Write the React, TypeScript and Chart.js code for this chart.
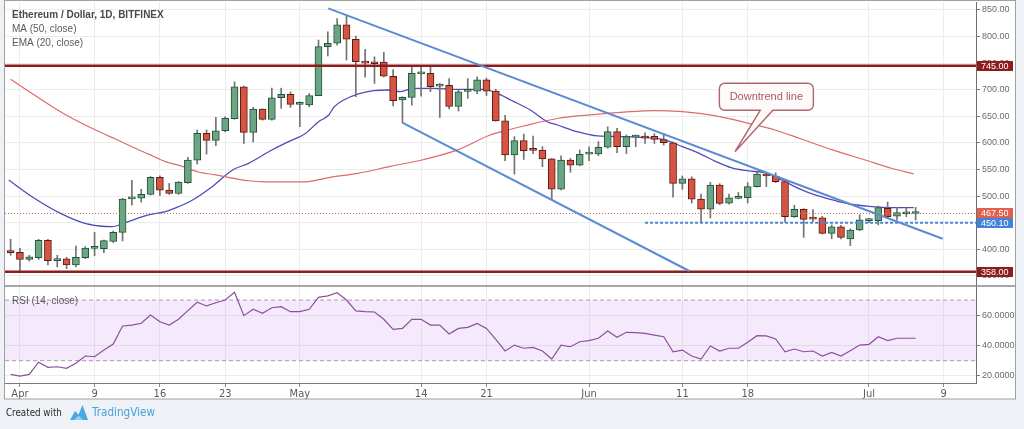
import React, { useEffect, useRef } from 'react';
import { Chart, registerables } from 'chart.js';

Chart.register(...registerables);

// ---------------- data ----------------
// day index: 0 = Apr 1 (first candle is Mar 31 = -1)
const FIRST_DAY = -1;

const opens = [
  395, 394.5, 381, 384.5, 417, 379, 382.5, 371, 384.5, 402,
  401.5, 415, 432, 495, 496.5, 503.5, 535.5, 511.5, 505, 525.5,
  567.5, 618, 605, 623, 645.5, 705.5, 620, 663.5, 644.5, 685,
  691.5, 672.5, 671.5, 689, 781, 787.5, 822, 795, 754, 752,
  752, 725.5, 681, 685.5, 730, 731, 707, 708.5, 668.5, 697,
  697.5, 718.5, 697.5, 641.5, 577.5, 604.5, 587, 586.5, 570, 513,
  568, 558.5, 579, 579.5, 592, 621.5, 593, 611, 610, 612.5,
  606.5, 600.5, 524, 532.5, 494.5, 475.5, 521, 487, 496, 497,
  518, 541.5, 538, 527.5, 461.5, 475.5, 458, 459.5, 430, 442.5,
  419.5, 436.5, 454, 454, 477, 462.5, 467, 467.5,
];
const highs = [
  419, 402, 389, 419, 419, 389, 385, 406, 405, 432,
  417.5, 434.5, 496, 530, 513, 537, 538.5, 524, 527.5, 573,
  624.5, 624.5, 648, 649.5, 715, 707, 667, 664, 703, 703,
  696, 677.5, 693, 793.5, 809, 834, 840.5, 801, 776, 762,
  770.5, 738, 687, 742.5, 745.5, 742.5, 712, 721, 699.5, 721,
  724.5, 722, 701, 652, 612, 616.5, 613, 593, 571, 576,
  571, 587, 593, 602.5, 630.5, 627.5, 615, 615, 619, 617.5,
  617.5, 602, 538, 536.5, 504, 526, 523.5, 504, 507, 525.5,
  545.5, 544, 544, 530.5, 483, 476.5, 475, 462, 446, 445,
  438.5, 465, 458, 481.5, 489, 479, 479, 479,
];
const lows = [
  389, 360, 378, 381, 371, 367, 364, 367, 382.5, 388,
  394, 413, 416, 483, 489, 502, 501, 503.5, 503.5, 524,
  560.5, 579, 595, 621, 644.5, 599, 602, 643, 643, 665,
  667, 630.5, 668, 689, 763.5, 784, 756, 687, 723.5, 712,
  724, 669.5, 638, 671, 688, 696.5, 648, 664, 660, 684,
  692, 689, 641, 567, 541.5, 569, 580, 555.5, 494, 512,
  545, 557, 567, 576, 590, 582, 580, 593, 599, 599,
  596, 498, 513, 487, 451, 459, 484, 485, 495, 487,
  517, 518, 525.5, 451, 460, 422.5, 452, 429, 420, 419.5,
  407, 435, 450, 446, 460, 455, 461.5, 455,
];
const closes = [
  394, 381, 386, 417, 379, 382.5, 371, 385, 402.5, 403,
  416.5, 432, 494.5, 496.5, 503.5, 535.5, 511.5, 505, 526.5, 568,
  618, 605, 623, 646.5, 705.5, 620, 663.5, 644.5, 685, 691.5,
  672.5, 673.5, 689, 781, 787.5, 822, 795, 753, 750, 749,
  725.5, 679.5, 686, 731, 731, 706, 708, 668.5, 696, 698.5,
  718.5, 697.5, 641.5, 577.5, 604.5, 585.5, 586, 570, 513, 568,
  558.5, 578.5, 580.5, 592, 621.5, 593, 612, 612, 609, 606.5,
  600.5, 524, 532.5, 494.5, 475.5, 521, 486.5, 497, 497.5, 518,
  541.5, 538, 527.5, 461.5, 475.5, 456.5, 457, 430, 442.5, 422.5,
  436.5, 455.5, 455.5, 478.5, 461.5, 469, 467.5, 467.5,
];

// MA (50)
const maDays = [-1, 1.3, 4.9, 8.5, 10.3, 12, 13.8, 15.6, 17.4, 19.2, 21, 22.8, 24.5, 26.3, 28.1, 30.6, 33.1, 36.2, 39.7, 43.3, 46.9, 50.4, 52.2, 54, 57.6, 61.2, 64.7, 68, 71, 74.6, 78.1, 81, 83.5, 87.1, 90.6, 93.5, 95.8];
const maValues = [720, 693, 653, 621, 607, 593, 579, 565, 556, 545, 540, 534, 529, 527, 527, 527, 535, 543, 556, 569, 587, 615, 624, 632, 646, 653, 658, 661, 659, 651, 637, 624, 609, 587, 568, 552, 542];

// EMA (20)
const emaDays = [-1.2, 1.3, 4.2, 6.7, 8.5, 9.9, 11.3, 13.8, 15.6, 17, 18.5, 20.6, 22.8, 24.5, 27, 28.8, 30.6, 32, 33.1, 33.7, 34.7, 36.2, 37.9, 39.4, 40.8, 42.2, 44.4, 46.9, 49.7, 51.2, 52.6, 54.7, 56.5, 57.6, 59.7, 61.9, 64.7, 68, 69.2, 71, 72.8, 74.6, 76.3, 78.1, 79.9, 81.7, 83.5, 85.3, 87.1, 88.9, 90.6, 92.4, 95.8];
const emaValues = [530.5, 499, 469, 450.3, 444, 442.7, 450.3, 464.7, 470.9, 480.3, 492.9, 517.9, 549.2, 561.8, 586.8, 602.5, 618, 640, 652.6, 668.3, 680.8, 692, 698.4, 699.6, 696.5, 702.8, 702.8, 700.9, 700.9, 693.4, 680.8, 662, 640, 633.8, 621.3, 613.2, 612, 608.8, 605.6, 593, 580.6, 565, 553.1, 547.5, 543.8, 530, 514.3, 501.8, 492.9, 485.3, 481.6, 479, 478.4];

// RSI (14), one value per candle
const rsiValues = [
  21, 19.9, 21, 29, 25.6, 26, 25, 28.3, 33.1, 32.6,
  37, 41, 52.9, 53.5, 54.7, 60.1, 55.7, 53.5, 57.3, 63,
  68.5, 66.1, 68.2, 70, 75.1, 59.7, 63.9, 61.2, 64.9, 65.6,
  62.3, 62.3, 63.9, 71.8, 72.7, 74.8, 70, 62.8, 62.3, 62.1,
  57.3, 50.7, 51.3, 57.3, 57.3, 53.5, 53.5, 47.6, 51.3, 52,
  54.6, 51.3, 44, 36.4, 40.3, 38.2, 38.8, 36.4, 31.1, 40.3,
  39.2, 42.5, 43.2, 44.8, 49.6, 45.4, 48.7, 48.5, 48, 46.9,
  45.8, 35.9, 37, 33.1, 31.1, 39.7, 36.4, 38.2, 38.2, 42.1,
  46.5, 46.3, 44.3, 35.9, 37.7, 35.9, 36.4, 33.1, 35.5, 33.1,
  36.6, 40.3, 40.8, 45.8, 43.2, 44.8, 44.8, 44.8,
];

const dateTickDays = [0, 8, 15, 22, 30, 43, 50, 61, 71, 78, 91, 99];
const dateTickLabels = ['Apr', '9', '16', '23', 'May', '14', '21', 'Jun', '11', '18', 'Jul', '9'];
const priceTicks = [350, 400, 450, 500, 550, 600, 650, 700, 750, 800, 850];
const rsiTicks = [20, 40, 60];

const resistanceLevel = 745;
const supportLevel = 358;
const lastPrice = 467.5;
const breakoutLevel = 450.1;
const breakoutStartDay = 67;
const upperTrendDays = [33.05, 98.9];
const upperTrendPrices = [853, 420];
const lowerTrendDays = [40.98, 71.74];
const lowerTrendPrices = [638.2, 359.4];
const rsiUpper = 70;
const rsiLower = 30;

const calloutText = 'Downtrend line';
const calloutBoxDay = 80.0;
const calloutBoxPrice = 687;
const calloutTipDay = 76.64;
const calloutTipPrice = 583.6;

const X_MIN = -1.6;
const X_MAX = 102.47;
const PRICE_MIN = 331.2;
const PRICE_MAX = 865;
const RSI_MIN = 15.3;
const RSI_MAX = 79.24;

// ---------------- styles ----------------
const SANS = '"Liberation Sans", Arial, sans-serif';
const NARROW = '"Liberation Sans Narrow", "DejaVu Sans Condensed", "Liberation Sans", sans-serif';
const UP = '#6ba583';
const DOWN = '#d75442';
const UP_BORDER = '#225437';
const DOWN_BORDER = '#5b1a13';
const WICK = '#737375';
const LEVEL_RED = '#8f1c1c';
const TREND_BLUE = '#5b8bd3';

function fitText(ctx: CanvasRenderingContext2D, text: string, x: number, y: number, width: number, family: string, base: number) {
  ctx.font = base + 'px ' + family;
  const m = ctx.measureText(text).width || width;
  const size = Math.min(base * 1.3, base * width / m);
  ctx.font = size.toFixed(2) + 'px ' + family;
  ctx.fillText(text, x, y);
}

const overlayPlugin = {
  id: 'overlay',
  beforeDraw(chart: any) {
    const ctx = chart.ctx;
    ctx.save();
    ctx.fillStyle = '#eef1f6';
    ctx.fillRect(0, 0, chart.width, chart.height);
    ctx.fillStyle = '#ffffff';
    ctx.fillRect(4, 1, 1012, 398);
    ctx.restore();
  },
  afterDraw(chart: any) {
    const ctx = chart.ctx;
    const xs = chart.scales.x;
    const ys = chart.scales.y;
    const rs = chart.scales.rsi;
    ctx.save();

    // panel separator
    ctx.strokeStyle = '#8a8a8a';
    ctx.lineWidth = 1.5;
    ctx.beginPath();
    ctx.moveTo(4, ys.bottom);
    ctx.lineTo(1016, ys.bottom);
    ctx.stroke();

    // frame
    ctx.strokeStyle = '#a0a0a0';
    ctx.lineWidth = 1;
    ctx.strokeRect(4.5, 0.5, 1011, 398.5);

    // legend texts
    ctx.textBaseline = 'middle';
    ctx.textAlign = 'left';
    ctx.fillStyle = '#4a4a4a';
    ctx.font = 'bold 10px ' + SANS;
    ctx.fillText('Ethereum / Dollar, 1D, BITFINEX', 12, 15);
    ctx.fillStyle = '#5a5a5a';
    ctx.font = '10px ' + SANS;
    ctx.fillText('MA (50, close)', 12, 29);
    ctx.fillText('EMA (20, close)', 12, 43);
    ctx.fillText('RSI (14, close)', 12, rs.top + 15);

    // callout
    const cx = xs.getPixelForValue(calloutBoxDay);
    const cy = ys.getPixelForValue(calloutBoxPrice);
    const tx = xs.getPixelForValue(calloutTipDay);
    const ty = ys.getPixelForValue(calloutTipPrice);
    const w = 94, h = 27, r = 6;
    const l = cx - w / 2, t = cy - h / 2, rr = l + w, b = t + h;
    ctx.beginPath();
    ctx.moveTo(l + r, t);
    ctx.lineTo(rr - r, t);
    ctx.quadraticCurveTo(rr, t, rr, t + r);
    ctx.lineTo(rr, b - r);
    ctx.quadraticCurveTo(rr, b, rr - r, b);
    ctx.lineTo(cx + 6.5, b);
    ctx.lineTo(tx, ty);
    ctx.lineTo(cx - 6, b);
    ctx.lineTo(l + r, b);
    ctx.quadraticCurveTo(l, b, l, b - r);
    ctx.lineTo(l, t + r);
    ctx.quadraticCurveTo(l, t, l + r, t);
    ctx.closePath();
    ctx.fillStyle = '#fffafa';
    ctx.fill();
    ctx.strokeStyle = '#b0676b';
    ctx.lineWidth = 1.4;
    ctx.stroke();
    ctx.fillStyle = '#a55a5e';
    ctx.font = '11px ' + SANS;
    ctx.textAlign = 'center';
    ctx.fillText(calloutText, cx, cy);

    // price tags on the right axis
    ctx.textAlign = 'left';
    ctx.font = '9px ' + SANS;
    const tag = (scale: any, value: number, color: string, text: string) => {
      const y = scale.getPixelForValue(value);
      ctx.fillStyle = color;
      ctx.fillRect(977, Math.round(y) - 5, 36, 10);
      ctx.fillStyle = '#ffffff';
      ctx.fillText(text, 981, Math.round(y) + 0.5);
    };
    tag(ys, resistanceLevel, LEVEL_RED, resistanceLevel.toFixed(2));
    tag(ys, supportLevel, LEVEL_RED, supportLevel.toFixed(2));
    tag(ys, breakoutLevel, '#3f84d6', breakoutLevel.toFixed(2));
    tag(ys, lastPrice, '#e0604f', lastPrice.toFixed(2));

    // footer
    ctx.fillStyle = '#2b2b2b';
    fitText(ctx, 'Created with', 6, 413, 56, NARROW, 12);
    ctx.fillStyle = '#4aa7df';
    ctx.beginPath();
    ctx.moveTo(70, 420);
    ctx.lineTo(75, 411);
    ctx.lineTo(78.5, 414.5);
    ctx.lineTo(82.5, 405);
    ctx.lineTo(88, 420);
    ctx.closePath();
    ctx.fill();
    ctx.fillStyle = '#8fd0f0';
    ctx.beginPath();
    ctx.moveTo(74, 420);
    ctx.lineTo(78.5, 415.5);
    ctx.lineTo(83, 420);
    ctx.closePath();
    ctx.fill();
    ctx.fillStyle = '#4aa3dc';
    fitText(ctx, 'TradingView', 92, 413, 63, NARROW, 12);

    ctx.restore();
  },
};

const noPad = (axis: any) => {
  axis.paddingTop = 0;
  axis.paddingBottom = 0;
  axis.paddingLeft = 0;
  axis.paddingRight = 0;
};

export default function App() {
  const ref = useRef<HTMLCanvasElement>(null);

  useEffect(() => {
    const canvas = ref.current;
    if (!canvas) return;

    const days = opens.map((_, i) => FIRST_DAY + i);
    const isUp = opens.map((o, i) => closes[i] >= o);

    const levelLine = (y: number, x0: number, color: string, width: number, dash: number[] | undefined, order: number) => ({
      type: 'line' as const,
      yAxisID: 'y',
      data: [{ x: x0, y }, { x: X_MAX, y }],
      borderColor: color,
      borderWidth: width,
      borderDash: dash,
      pointRadius: 0,
      fill: false,
      order,
    });

    const chart = new Chart(canvas, {
      type: 'bar',
      data: {
        datasets: [
          // RSI band (upper / lower dashed lines and fill)
          {
            type: 'line',
            yAxisID: 'rsi',
            data: [{ x: X_MIN, y: rsiUpper }, { x: X_MAX, y: rsiUpper }],
            borderColor: 'rgba(150,120,150,0.75)',
            borderWidth: 1,
            borderDash: [4, 3],
            pointRadius: 0,
            fill: false,
            order: 10,
          },
          {
            type: 'line',
            yAxisID: 'rsi',
            data: [{ x: X_MIN, y: rsiLower }, { x: X_MAX, y: rsiLower }],
            borderColor: 'rgba(150,120,150,0.75)',
            borderWidth: 1,
            borderDash: [4, 3],
            pointRadius: 0,
            fill: '-1',
            backgroundColor: 'rgba(170,80,230,0.12)',
            order: 10,
          },
          {
            type: 'line',
            yAxisID: 'rsi',
            data: rsiValues.map((v, i) => ({ x: FIRST_DAY + i, y: v })),
            borderColor: '#8d4f9b',
            borderWidth: 1.2,
            pointRadius: 0,
            fill: false,
            order: 5,
          },
          // moving averages
          {
            type: 'line',
            yAxisID: 'y',
            data: maDays.map((d, i) => ({ x: d, y: maValues[i] })),
            borderColor: '#dc6b6e',
            borderWidth: 1.2,
            pointRadius: 0,
            fill: false,
            cubicInterpolationMode: 'monotone',
            order: 4,
          },
          {
            type: 'line',
            yAxisID: 'y',
            data: emaDays.map((d, i) => ({ x: d, y: emaValues[i] })),
            borderColor: '#4f4cba',
            borderWidth: 1.3,
            pointRadius: 0,
            fill: false,
            cubicInterpolationMode: 'monotone',
            order: 4,
          },
          // candle wicks
          {
            type: 'bar',
            yAxisID: 'y',
            data: days.map((d, i) => ({ x: d, y: [lows[i], highs[i]] })),
            backgroundColor: WICK,
            borderWidth: 0,
            barThickness: 1,
            grouped: false,
            order: 3,
          },
          // candle bodies
          {
            type: 'bar',
            yAxisID: 'y',
            data: days.map((d, i) => ({ x: d, y: [opens[i], closes[i]] })),
            backgroundColor: isUp.map((u) => (u ? UP : DOWN)),
            borderColor: isUp.map((u) => (u ? UP_BORDER : DOWN_BORDER)),
            borderWidth: 1,
            borderSkipped: false,
            barThickness: 7,
            minBarLength: 2,
            grouped: false,
            order: 2,
          },
          // drawings
          levelLine(lastPrice, X_MIN, '#c96a5e', 1, [1, 2], 1),
          levelLine(breakoutLevel, breakoutStartDay, '#4a86d6', 2, [3, 2], 1),
          levelLine(resistanceLevel, X_MIN, LEVEL_RED, 2.5, undefined, 1),
          levelLine(supportLevel, X_MIN, LEVEL_RED, 2.5, undefined, 1),
          {
            type: 'line',
            yAxisID: 'y',
            data: upperTrendDays.map((d, i) => ({ x: d, y: upperTrendPrices[i] })),
            borderColor: TREND_BLUE,
            borderWidth: 2,
            pointRadius: 0,
            fill: false,
            order: 0,
          },
          {
            type: 'line',
            yAxisID: 'y',
            data: lowerTrendDays.map((d, i) => ({ x: d, y: lowerTrendPrices[i] })),
            borderColor: TREND_BLUE,
            borderWidth: 2,
            pointRadius: 0,
            fill: false,
            order: 0,
          },
        ] as any,
      },
      options: {
        responsive: false,
        animation: false,
        devicePixelRatio: 1,
        events: [],
        layout: { padding: { left: 5, top: 2, right: 8, bottom: 30 } },
        plugins: {
          legend: { display: false },
          tooltip: { enabled: false },
        },
        scales: {
          x: {
            type: 'linear',
            min: X_MIN,
            max: X_MAX,
            offset: false,
            afterBuildTicks: (axis: any) => {
              axis.ticks = dateTickDays.map((v) => ({ value: v }));
            },
            afterFit: (axis: any) => {
              axis.height = 16;
              noPad(axis);
            },
            grid: {
              offset: false,
              color: '#ececec',
              tickColor: '#8a8a8a',
              tickLength: 4,
            },
            border: { display: true, color: '#7a7a7a' },
            ticks: {
              autoSkip: false,
              maxRotation: 0,
              padding: 1,
              color: '#5a5a5a',
              font: { family: NARROW, size: 11 },
              callback: (v: any) => {
                const i = dateTickDays.indexOf(Number(v));
                return i >= 0 ? dateTickLabels[i] : '';
              },
            },
          },
          y: {
            type: 'linear',
            position: 'right',
            stack: 'panels',
            stackWeight: 284,
            min: PRICE_MIN,
            max: PRICE_MAX,
            offset: false,
            afterBuildTicks: (axis: any) => {
              axis.ticks = priceTicks.map((v) => ({ value: v }));
            },
            afterFit: (axis: any) => {
              axis.width = 40;
              noPad(axis);
            },
            grid: { color: '#ececec', tickColor: '#7a7a7a', tickLength: 4 },
            border: { display: true, color: '#6f6f6f' },
            ticks: {
              padding: 2,
              color: '#6b6b6b',
              font: { family: SANS, size: 9 },
              callback: (v: any) => Number(v).toFixed(2),
            },
          },
          rsi: {
            type: 'linear',
            position: 'right',
            stack: 'panels',
            stackWeight: 97,
            min: RSI_MIN,
            max: RSI_MAX,
            offset: false,
            afterBuildTicks: (axis: any) => {
              axis.ticks = rsiTicks.map((v) => ({ value: v }));
            },
            afterFit: (axis: any) => {
              axis.width = 40;
              noPad(axis);
            },
            grid: { color: '#ececec', tickColor: '#7a7a7a', tickLength: 4 },
            border: { display: true, color: '#6f6f6f' },
            ticks: {
              padding: 2,
              color: '#6b6b6b',
              font: { family: SANS, size: 9 },
              callback: (v: any) => Number(v).toFixed(4),
            },
          },
        } as any,
      },
      plugins: [overlayPlugin],
    });

    return () => chart.destroy();
  }, []);

  return (
    <div style={{ position: 'absolute', left: 0, top: 0, width: 1024, height: 429 }}>
      <canvas ref={ref} width={1024} height={429} style={{ display: 'block', width: 1024, height: 429 }} />
    </div>
  );
}
